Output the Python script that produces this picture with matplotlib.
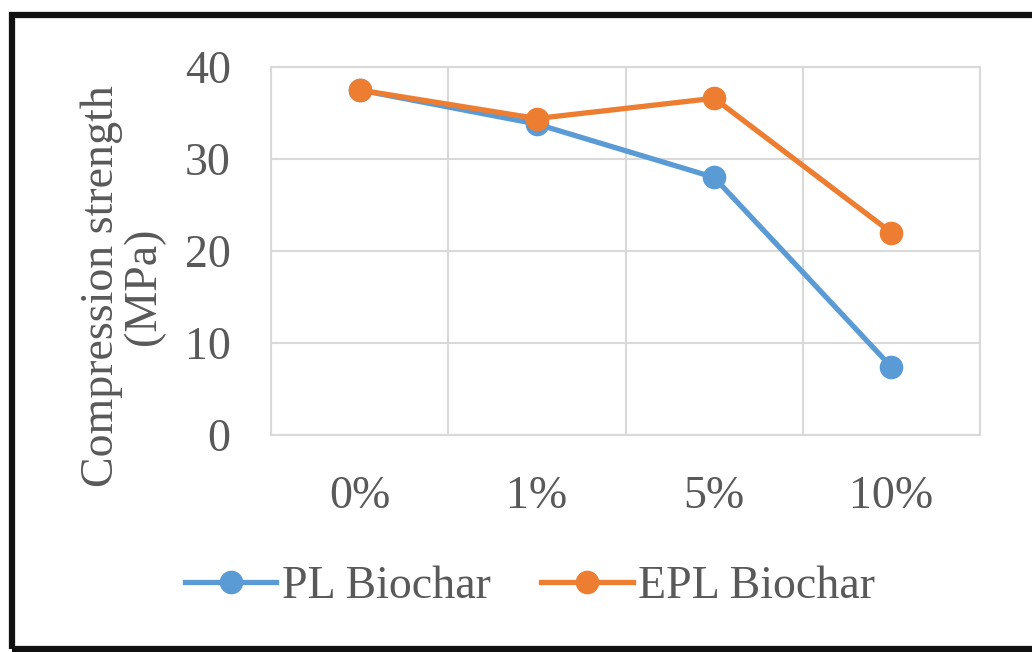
import matplotlib
matplotlib.use('Agg')
import matplotlib.pyplot as plt
from matplotlib.patches import Rectangle
import numpy as np

# Biochar dosage vs. compression strength
dosages = ['0%', '1%', '5%', '10%']
pl_biochar = [37.5, 33.8, 28.0, 7.4]
epl_biochar = [37.5, 34.4, 36.6, 22.0]
y_ticks = [0, 10, 20, 30, 40]

TEXT = '#595959'
GRID = '#d9d9d9'
BLUE = '#5b9bd5'
ORANGE = '#ed7d31'

plt.rcParams['font.family'] = ['Liberation Serif', 'DejaVu Serif']

fig = plt.figure(figsize=(10.32, 6.52), dpi=100)
fig.patch.set_facecolor('white')

# thick black frame around the whole chart
fig.patches.append(Rectangle((12 / 1032, 3 / 652), 1.05, 634 / 652,
                             transform=fig.transFigure, fill=False,
                             edgecolor='#111111', linewidth=4.5, zorder=0))

ax = fig.add_axes([271 / 1032, 1 - 435 / 652, 709 / 1032, 368 / 652])
x = np.arange(len(dosages))

ax.plot(x, pl_biochar, color=BLUE, lw=3.8, marker='o', ms=16,
        label='PL Biochar', zorder=3)
ax.plot(x, epl_biochar, color=ORANGE, lw=3.8, marker='o', ms=16,
        label='EPL Biochar', zorder=4)

ax.set_xlim(-0.5, len(dosages) - 0.5)
ax.set_ylim(0, 40)
ax.set_yticks(y_ticks)
ax.set_xticks(x)
ax.set_xticklabels(dosages)
ax.set_xticks(np.arange(-0.5, len(dosages), 1.0), minor=True)

ax.grid(True, axis='y', which='major', color=GRID, lw=1.5)
ax.grid(True, axis='x', which='minor', color=GRID, lw=1.5)
ax.grid(False, axis='x', which='major')
ax.set_axisbelow(True)

for s in ax.spines.values():
    s.set_color(GRID)
    s.set_linewidth(1.5)

ax.tick_params(axis='both', which='both', length=0, labelsize=33,
               labelcolor=TEXT)
ax.tick_params(axis='y', pad=29)
ax.tick_params(axis='x', pad=29)

fig.text(123 / 1032, 1 - 286 / 652, 'Compression strength\n(MPa)',
         rotation=90, ha='center', va='center', fontsize=33,
         color=TEXT, linespacing=1.0)

fig.legend(loc='center', bbox_to_anchor=(530 / 1032, 1 - 587 / 652),
           ncol=2, frameon=False, fontsize=33, labelcolor=TEXT,
           handlelength=2.0, handletextpad=0.12, columnspacing=1.1)

fig.savefig('out.png', dpi=100, facecolor='white')
